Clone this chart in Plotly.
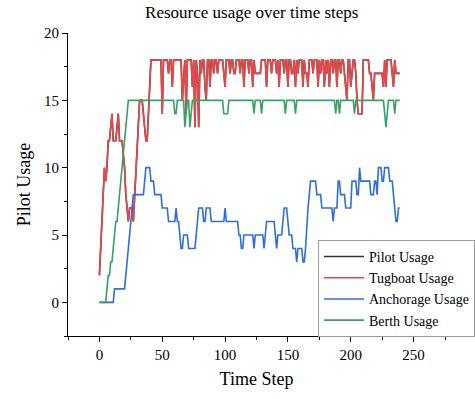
import plotly.graph_objects as go

time_steps = list(range(240))

tugboat_usage = [
    2, 4, 6, 8, 10, 9, 10, 12, 12, 13,
    14, 12, 12, 12, 13, 14, 12, 12, 12, 11,
    10, 8, 7, 6, 7, 7, 7, 6, 8, 10,
    12, 14, 15, 15, 15, 14, 13, 12, 12, 14,
    16, 18, 18, 18, 18, 18, 18, 18, 18, 18,
    14, 18, 18, 18, 18, 17, 18, 18, 16, 18,
    18, 18, 18, 18, 18, 18, 15, 17, 18, 14,
    18, 18, 18, 18, 16, 18, 13, 18, 17, 13,
    18, 17, 18, 18, 16, 15, 18, 18, 16, 18,
    18, 17, 18, 18, 17, 18, 18, 18, 18, 17,
    16, 18, 18, 18, 17, 18, 18, 17, 17, 18,
    18, 18, 17, 18, 18, 16, 18, 18, 18, 17,
    18, 18, 16, 18, 17, 17, 17, 17, 17, 18,
    18, 18, 18, 16, 18, 18, 18, 17, 18, 18,
    18, 17, 18, 16, 18, 18, 18, 17, 18, 18,
    16, 18, 18, 17, 17, 18, 16, 18, 17, 18,
    18, 18, 16, 18, 17, 17, 16, 18, 18, 18,
    17, 18, 18, 18, 16, 18, 17, 18, 18, 16,
    18, 17, 18, 16, 18, 18, 17, 18, 18, 16,
    18, 18, 17, 18, 18, 17, 16, 15, 18, 18,
    16, 17, 18, 18, 17, 15, 14, 14, 14, 14,
    18, 18, 18, 18, 18, 17, 17, 16, 15, 17,
    17, 17, 17, 17, 17, 17, 16, 18, 16, 18,
    18, 18, 18, 17, 16, 18, 17, 17, 17, 17,
]

# Pilot usage is hidden beneath the tugboat line in the reference
pilot_usage = list(tugboat_usage)

anchorage_usage = [
    0, 0, 0, 0, 0, 0, 0, 0, 0, 0,
    0, 0, 1, 1, 1, 1, 1, 1, 1, 1,
    1, 2, 3, 4, 5, 6, 7, 8, 8, 8,
    8, 8, 8, 8, 8, 8, 9, 10, 10, 10,
    10, 9, 9, 9, 8, 8, 8, 8, 8, 8,
    7, 7, 7, 7, 7, 6, 6, 6, 6, 6,
    6, 7, 6, 6, 5, 4, 4, 5, 5, 5,
    5, 4, 4, 4, 4, 4, 4, 5, 6, 7,
    7, 7, 7, 6, 6, 7, 7, 7, 7, 6,
    6, 6, 6, 6, 6, 6, 6, 6, 6, 6,
    7, 6, 6, 6, 6, 6, 6, 6, 6, 6,
    6, 5, 5, 4, 4, 5, 5, 5, 5, 5,
    5, 5, 5, 4, 5, 5, 5, 5, 5, 5,
    5, 4, 5, 6, 6, 6, 6, 6, 6, 6,
    5, 4, 5, 5, 5, 5, 6, 7, 7, 7,
    6, 5, 5, 5, 4, 4, 4, 3, 4, 4,
    4, 4, 3, 3, 4, 6, 7, 8, 9, 9,
    9, 9, 9, 8, 8, 8, 8, 7, 7, 7,
    7, 7, 7, 7, 7, 7, 6, 7, 7, 7,
    9, 9, 8, 8, 8, 8, 7, 7, 7, 7,
    7, 9, 9, 9, 9, 8, 8, 10, 9, 9,
    9, 9, 9, 9, 9, 9, 8, 8, 8, 9,
    9, 8, 10, 10, 10, 9, 9, 10, 10, 10,
    10, 9, 9, 9, 8, 7, 6, 6, 7, 7,
]

berth_usage = [
    0, 0, 0, 0, 0, 0, 1, 2, 2, 3,
    3, 4, 5, 6, 6, 7, 8, 9, 10, 11,
    12, 13, 14, 15, 15, 15, 15, 15, 15, 15,
    15, 15, 15, 15, 15, 15, 15, 15, 15, 15,
    15, 15, 15, 15, 15, 15, 15, 15, 15, 15,
    15, 15, 15, 15, 15, 15, 15, 15, 15, 15,
    14, 14, 15, 15, 15, 15, 15, 15, 13, 14,
    15, 15, 13, 14, 15, 15, 15, 15, 15, 15,
    15, 15, 15, 15, 15, 15, 15, 15, 15, 15,
    15, 15, 15, 15, 15, 15, 15, 15, 15, 14,
    14, 14, 14, 15, 15, 15, 15, 15, 15, 15,
    15, 15, 15, 15, 15, 15, 15, 15, 15, 15,
    15, 15, 15, 14, 15, 15, 15, 15, 15, 14,
    15, 15, 15, 15, 15, 15, 15, 15, 15, 15,
    15, 15, 15, 15, 15, 15, 15, 15, 14, 15,
    15, 15, 15, 15, 15, 15, 14, 15, 15, 15,
    15, 15, 15, 15, 15, 15, 15, 15, 15, 15,
    15, 15, 15, 15, 15, 15, 15, 15, 15, 15,
    15, 15, 15, 15, 15, 15, 15, 15, 14, 15,
    15, 14, 15, 15, 15, 15, 15, 15, 15, 15,
    15, 15, 15, 14, 15, 15, 15, 15, 15, 15,
    15, 15, 15, 15, 15, 15, 15, 15, 15, 15,
    15, 15, 15, 15, 15, 15, 15, 14, 13, 14,
    15, 15, 15, 15, 15, 14, 15, 15, 15, 15,
]

series_names = ["Pilot Usage", "Tugboat Usage", "Anchorage Usage", "Berth Usage"]
series_values = [pilot_usage, tugboat_usage, anchorage_usage, berth_usage]
series_colors = ["#333333", "#e8474a", "#2f6fd6", "#35a266"]

x_ticks = [0, 50, 100, 150, 200, 250]
y_ticks = [0, 5, 10, 15, 20]

FONT = "Liberation Serif"

fig = go.Figure()
for name, vals, col in zip(series_names, series_values, series_colors):
    fig.add_trace(go.Scatter(
        x=time_steps, y=vals, mode="lines", name=name,
        line=dict(color=col, width=1.6),
    ))

fig.update_layout(
    width=475, height=399,
    margin=dict(l=68, r=30, t=33, b=63, autoexpand=False),
    paper_bgcolor="white", plot_bgcolor="white",
    font=dict(family=FONT, color="black", size=15),
    title=dict(text="Resource usage over time steps", x=0.53, xanchor="center",
               y=0.985, yanchor="top", font=dict(family=FONT, size=17)),
    showlegend=True,
    legend=dict(x=0.663, y=0.317, xanchor="left", yanchor="top",
                bgcolor="white", bordercolor="#9a9a9a", borderwidth=1,
                font=dict(family=FONT, size=14), tracegroupgap=0,
                itemwidth=40),
)

fig.update_xaxes(
    range=[-25, 275], tickvals=x_ticks, showgrid=False, zeroline=False,
    showline=True, linecolor="black", linewidth=1.2,
    ticks="outside", ticklen=5, tickcolor="black", tickwidth=1.2,
    minor=dict(dtick=25, tick0=-25, ticks="outside", ticklen=3, tickcolor="black", tickwidth=1),
    title=dict(text="Time Step", font=dict(family=FONT, size=18), standoff=10),
    tickfont=dict(family=FONT, size=15),
)
fig.update_yaxes(
    range=[-2.5, 20], tickvals=y_ticks, showgrid=False, zeroline=False,
    showline=True, linecolor="black", linewidth=1.2,
    ticks="outside", ticklen=5, tickcolor="black", tickwidth=1.2,
    minor=dict(dtick=2.5, tick0=0, ticks="outside", ticklen=3, tickcolor="black", tickwidth=1),
    title=dict(text="Pilot Usage", font=dict(family=FONT, size=18), standoff=8),
    tickfont=dict(family=FONT, size=15),
)

fig.write_html("out.html")
